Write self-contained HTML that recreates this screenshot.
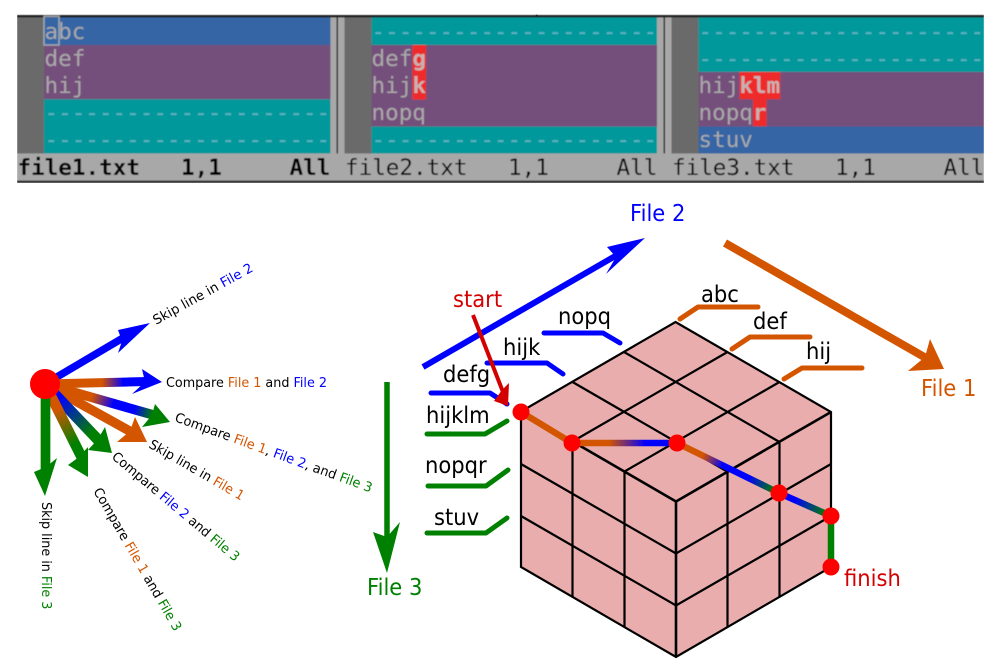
<!DOCTYPE html>
<html><head><meta charset="utf-8"><style>html,body{margin:0;padding:0;background:#fff}svg{display:block}</style></head><body>
<svg xmlns="http://www.w3.org/2000/svg" width="999" height="671" viewBox="0 0 999 671" font-family="'DejaVu Sans',sans-serif">
<defs>
<linearGradient id="g12" gradientUnits="userSpaceOnUse" x1="45" y1="382" x2="143" y2="382"><stop offset=".58" stop-color="#d45500"/><stop offset=".8" stop-color="#00f"/></linearGradient>
<linearGradient id="g123" gradientUnits="userSpaceOnUse" x1="45" y1="384" x2="156" y2="416"><stop offset=".42" stop-color="#d45500"/><stop offset=".62" stop-color="#00f"/><stop offset=".8" stop-color="#00f"/><stop offset=".97" stop-color="#008000"/></linearGradient>
<linearGradient id="g23" gradientUnits="userSpaceOnUse" x1="45" y1="384" x2="100" y2="442"><stop offset=".25" stop-color="#00f"/><stop offset=".85" stop-color="#008000"/></linearGradient>
<linearGradient id="g13" gradientUnits="userSpaceOnUse" x1="45" y1="384" x2="80" y2="455"><stop offset=".35" stop-color="#d45500"/><stop offset=".85" stop-color="#008000"/></linearGradient>
<linearGradient id="p1" gradientUnits="userSpaceOnUse" x1="572" y1="443" x2="677" y2="443"><stop offset=".35" stop-color="#d45500"/><stop offset=".7" stop-color="#00f"/></linearGradient>
<linearGradient id="p2" gradientUnits="userSpaceOnUse" x1="677" y1="443" x2="779" y2="493"><stop offset=".25" stop-color="#d45500"/><stop offset=".45" stop-color="#00f"/><stop offset=".7" stop-color="#00f"/><stop offset=".95" stop-color="#008000"/></linearGradient>
<linearGradient id="p3" gradientUnits="userSpaceOnUse" x1="779" y1="493" x2="831" y2="516"><stop offset=".3" stop-color="#00f"/><stop offset=".9" stop-color="#008000"/></linearGradient>
<filter id="b" x="0" y="0" width="100%" height="100%"><feGaussianBlur stdDeviation="0.45"/></filter>
<filter id="b2" filterUnits="userSpaceOnUse" x="0" y="184" width="999" height="487"><feGaussianBlur stdDeviation="0.3"/></filter>
</defs>

<g filter="url(#b)">
<rect x="17" y="15" width="967" height="168" fill="#a8a8a8"/>
<rect x="17" y="15" width="967" height="2.5" fill="#222"/>
<rect x="17" y="180.5" width="967" height="2.5" fill="#333"/>
<rect x="536" y="14.5" width="1.5" height="2" fill="#000"/>
<rect x="17" y="17.5" width="27" height="136" fill="#6b6b6b"/>
<rect x="344.5" y="17.5" width="27" height="136" fill="#6b6b6b"/>
<rect x="671.5" y="17.5" width="27" height="136" fill="#6b6b6b"/>
<rect x="336.5" y="17.5" width="1.5" height="136" fill="#111"/>
<rect x="663.5" y="17.5" width="1.5" height="136" fill="#111"/>
<rect x="44" y="17.5" width="286.5" height="27.5" fill="#3465a4"/>
<rect x="44" y="45" width="286.5" height="54.3" fill="#75507b"/>
<rect x="44" y="99.3" width="286.5" height="54.2" fill="#06989a"/>
<rect x="371.5" y="17.5" width="285.5" height="27.5" fill="#06989a"/>
<rect x="371.5" y="45" width="285.5" height="81.5" fill="#75507b"/>
<rect x="371.5" y="126.5" width="285.5" height="27" fill="#06989a"/>
<rect x="698.5" y="17.5" width="285.5" height="54.5" fill="#06989a"/>
<rect x="698.5" y="72" width="285.5" height="54.5" fill="#75507b"/>
<rect x="698.5" y="126.5" width="285.5" height="27" fill="#3465a4"/>
<rect x="412.5" y="45" width="13.6" height="54.5" fill="#ef2929"/>
<rect x="739.5" y="72" width="40.8" height="27.2" fill="#ef2929"/>
<rect x="753" y="99" width="13.6" height="27.2" fill="#ef2929"/>
<rect x="44" y="16.5" width="15" height="28.5" fill="none" stroke="#a3a9b0" stroke-width="1.5"/>

<g font-family="'DejaVu Sans Mono',monospace" font-size="22.6" fill="#a9a9a9">
<text x="44.5" y="39">abc</text>
<text x="44.5" y="66">def</text>
<text x="44.5" y="93">hij</text>
<text x="44.5" y="120" fill="#5fb4c4">---------------------</text>
<text x="44.5" y="147" fill="#5fb4c4">---------------------</text>
<text x="371.5" y="39" fill="#5fb4c4">---------------------</text>
<text x="371.5" y="66">def<tspan font-weight="bold" fill="#c9b0b0">g</tspan></text>
<text x="371.5" y="93">hij<tspan font-weight="bold" fill="#c9b0b0">k</tspan></text>
<text x="371.5" y="120">nopq</text>
<text x="371.5" y="147" fill="#5fb4c4">---------------------</text>
<text x="698.5" y="39" fill="#5fb4c4">---------------------</text>
<text x="698.5" y="66" fill="#5fb4c4">---------------------</text>
<text x="698.5" y="93">hij<tspan font-weight="bold" fill="#c9b0b0">klm</tspan></text>
<text x="698.5" y="120">nopq<tspan font-weight="bold" fill="#c9b0b0">r</tspan></text>
<text x="698.5" y="147">stuv</text>
<g fill="#000">
<g font-weight="bold"><text x="17.5" y="175">file1.txt</text><text x="181" y="175">1,1</text><text x="289.5" y="175">All</text></g>
<text x="345" y="175">file2.txt</text><text x="508" y="175">1,1</text><text x="616.5" y="175">All</text>
<text x="672" y="175">file3.txt</text><text x="835" y="175">1,1</text><text x="943.5" y="175">All</text>
</g>
</g>
</g>
<rect x="984" y="14" width="15" height="170" fill="#fff"/>

<g filter="url(#b2)">
<!-- fan -->
<g fill="none">
<line x1="45" y1="384" x2="128" y2="335" stroke="#00f" stroke-width="7.5"/>
<line x1="45" y1="384" x2="148" y2="381.5" stroke="url(#g12)" stroke-width="9"/>
<line x1="45" y1="384" x2="157" y2="416" stroke="url(#g123)" stroke-width="9.5"/>
<line x1="45" y1="384" x2="135" y2="434" stroke="#d45500" stroke-width="9.5"/>
<line x1="45" y1="384" x2="102" y2="444" stroke="url(#g23)" stroke-width="11"/>
<line x1="45" y1="384" x2="83" y2="460" stroke="url(#g13)" stroke-width="10.5"/>
<line x1="45.5" y1="384" x2="45.5" y2="472" stroke="#008000" stroke-width="9.7"/>
</g>
<polygon points="150,323 118,330 122,341 118,353" fill="#00f"/>
<polygon points="162,382 142,369 145,382 132,394" fill="#00f"/>
<polygon points="170,422 155,404 152,415 142,427" fill="#008000"/>
<polygon points="147,442 135,417 130,431 117,442" fill="#d45500"/>
<polygon points="112,453 105,427 98,439 88,450" fill="#008000"/>
<polygon points="88,477 88,447 79,457 68,465" fill="#008000"/>
<polygon points="45,496 57,458 46,467 34,472" fill="#008000"/>
<circle cx="45" cy="384" r="15" fill="#f00"/>

<g font-size="13.3" fill="#000">
<text transform="translate(156,325) rotate(-29)">Skip line in <tspan fill="#00f">File 2</tspan></text>
<text transform="translate(166,387) scale(.96,1)">Compare <tspan fill="#d45500">File 1</tspan> and <tspan fill="#00f">File 2</tspan></text>
<text transform="translate(174,421) rotate(20) scale(.97,1)">Compare <tspan fill="#d45500">File 1</tspan>, <tspan fill="#00f">File 2</tspan>, and <tspan fill="#008000">File 3</tspan></text>
<text transform="translate(148,447) rotate(30) scale(.96,1)">Skip line in <tspan fill="#d45500">File 1</tspan></text>
<text transform="translate(111,458) rotate(40) scale(.965,1)">Compare <tspan fill="#00f">File 2</tspan> and <tspan fill="#008000">File 3</tspan></text>
<text transform="translate(93,491) rotate(60) scale(.97,1)">Compare <tspan fill="#d45500">File 1</tspan> and <tspan fill="#008000">File 3</tspan></text>
<text transform="translate(42,502) rotate(90) scale(.96,1)">Skip line in <tspan fill="#008000">File 3</tspan></text>
</g>

<!-- cube -->
<polygon points="675.5,322 831,412 831,567 676,657 521,567 521,411.5" fill="#e9adad"/>
<g stroke="#000" stroke-width="2.2" fill="none">
<polygon points="675.5,322 831,412 831,567 676,657 521,567 521,411.5"/>
<path d="M521,411.5L676,501.5L831,412M676,501.5V657" stroke-width="2.6"/>
<path d="M624,352L779.5,442M572.5,382L728,472M727.5,352L572.5,441.5M779.5,382L624.5,471.5"/>
<path d="M572.5,441.5V597M624.5,471.5V627M727.5,471.5V627M779.5,441.5V597"/>
<path d="M521,464L676,553.5L831,464M521,516L676,605.5L831,516"/>
</g>

<!-- path -->
<g fill="none" stroke-width="6.5">
<line x1="521" y1="412" x2="572" y2="443" stroke="#d45500"/>
<line x1="572" y1="443" x2="677" y2="443" stroke="url(#p1)"/>
<line x1="677" y1="443" x2="779" y2="493" stroke="url(#p2)"/>
<line x1="779" y1="493" x2="831" y2="516" stroke="url(#p3)"/>
<line x1="831" y1="516" x2="831" y2="567" stroke="#008000"/>
</g>
<g fill="#f00">
<circle cx="521" cy="412" r="8.5"/><circle cx="572" cy="443" r="8.5"/><circle cx="677" cy="443" r="8.5"/><circle cx="779" cy="493" r="8.5"/><circle cx="831" cy="516" r="8.5"/><circle cx="831" cy="567" r="8.5"/>
</g>

<!-- axes -->
<line x1="423" y1="367" x2="617" y2="255" stroke="#00f" stroke-width="6"/>
<polygon points="645,238 607,247 616,257 606,274" fill="#00f"/>
<line x1="725" y1="243" x2="926" y2="358" stroke="#d45500" stroke-width="8"/>
<polygon points="944,369 930,339 925,357 908,371" fill="#d45500"/>
<line x1="387" y1="382" x2="387" y2="540" stroke="#008000" stroke-width="5.5"/>
<polygon points="387,573 400,522 387,537 373,532" fill="#008000"/>

<!-- leaders -->
<g fill="none" stroke-width="5" stroke-linecap="round" stroke-linejoin="round">
<g stroke="#00f">
<path d="M431,393H490L507,404"/>
<path d="M487,363H547L563,374"/>
<path d="M544,333H603L620,343"/>
</g>
<g stroke="#008000">
<path d="M427,434H485L507,421"/>
<path d="M428,486H486L508,470"/>
<path d="M427,533H486L507,518"/>
</g>
<g stroke="#d45500">
<path d="M680,319L698,307H758"/>
<path d="M732,349L750,337H810"/>
<path d="M784,379L802,368H862"/>
</g>
</g>

<!-- start arrow -->
<line x1="473" y1="315" x2="503" y2="392" stroke="#d40000" stroke-width="4"/>
<polygon points="508,406 509,383 502,390 494,401" fill="#d40000"/>

<g font-size="22.8">
<text transform="translate(630,221) scale(.925,1)" fill="#00f">File 2</text>
<text transform="translate(921,396) scale(.925,1)" fill="#d45500">File 1</text>
<text transform="translate(367,595) scale(.925,1)" fill="#008000">File 3</text>
<text transform="translate(453,307) scale(.925,1)" fill="#d40000">start</text>
<text transform="translate(844,586) scale(.925,1)" fill="#d40000">finish</text>
<g fill="#000">
<text transform="translate(701,302) scale(.925,1)">abc</text>
<text transform="translate(753,329) scale(.925,1)">def</text>
<text transform="translate(806,359) scale(.925,1)">hij</text>
<text transform="translate(558,324) scale(.925,1)">nopq</text>
<text transform="translate(503,355) scale(.925,1)">hijk</text>
<text transform="translate(443,382) scale(.925,1)">defg</text>
<text transform="translate(426,423) scale(.925,1)">hijklm</text>
<text transform="translate(425,473) scale(.925,1)">nopqr</text>
<text transform="translate(434,525) scale(.925,1)">stuv</text>
</g>
</g>
</g>
</svg>
</body></html>
